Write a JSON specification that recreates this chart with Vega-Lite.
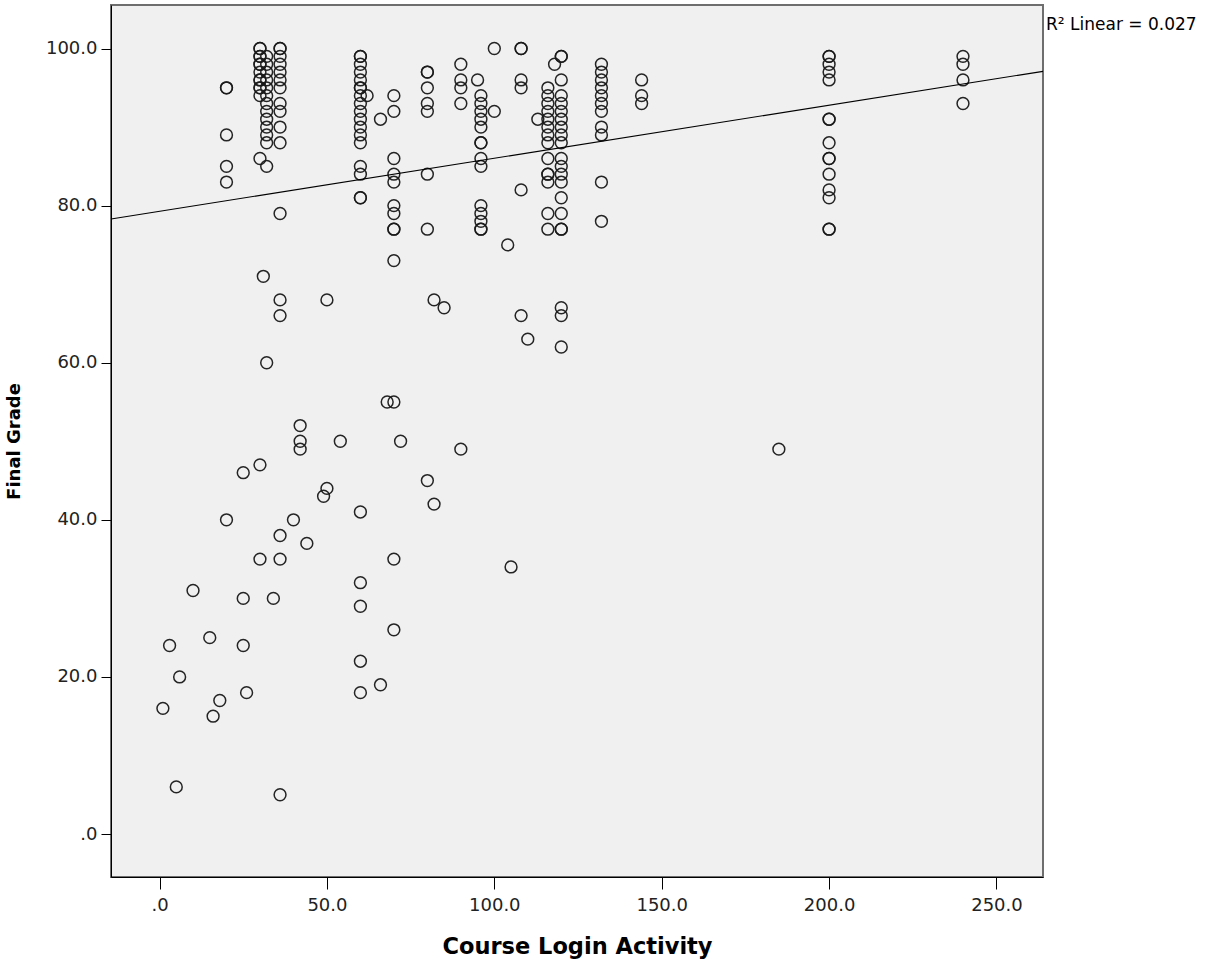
{
  "$schema": "https://vega.github.io/schema/vega-lite/v6.json",
  "width": 932,
  "height": 872,
  "autosize": "none",
  "padding": {"left": 111, "top": 5, "right": 169, "bottom": 86},
  "background": "white",
  "config": {
    "view": {"fill": "#f0f0f0", "stroke": "#6e6e6e", "strokeWidth": 2},
    "font": "DejaVu Sans"
  },
  "datasets": {
    "points": [
      {"login": 1, "grade": 16}, {"login": 3, "grade": 24}, {"login": 5, "grade": 6}, {"login": 6, "grade": 20},
      {"login": 10, "grade": 31}, {"login": 15, "grade": 25}, {"login": 16, "grade": 15}, {"login": 18, "grade": 17},
      {"login": 20, "grade": 95}, {"login": 20, "grade": 95}, {"login": 20, "grade": 89}, {"login": 20, "grade": 85}, {"login": 20, "grade": 83}, {"login": 20, "grade": 40},
      {"login": 25, "grade": 46}, {"login": 25, "grade": 30}, {"login": 25, "grade": 24}, {"login": 26, "grade": 18},
      {"login": 30, "grade": 100}, {"login": 30, "grade": 100}, {"login": 30, "grade": 99}, {"login": 30, "grade": 99}, {"login": 30, "grade": 98}, {"login": 30, "grade": 98}, {"login": 30, "grade": 97}, {"login": 30, "grade": 96}, {"login": 30, "grade": 96}, {"login": 30, "grade": 95}, {"login": 30, "grade": 95}, {"login": 30, "grade": 94}, {"login": 30, "grade": 86}, {"login": 30, "grade": 47}, {"login": 30, "grade": 35},
      {"login": 31, "grade": 71},
      {"login": 32, "grade": 99}, {"login": 32, "grade": 98}, {"login": 32, "grade": 97}, {"login": 32, "grade": 96}, {"login": 32, "grade": 95}, {"login": 32, "grade": 94}, {"login": 32, "grade": 93}, {"login": 32, "grade": 92}, {"login": 32, "grade": 91}, {"login": 32, "grade": 90}, {"login": 32, "grade": 89}, {"login": 32, "grade": 88}, {"login": 32, "grade": 85}, {"login": 32, "grade": 60},
      {"login": 34, "grade": 30},
      {"login": 36, "grade": 100}, {"login": 36, "grade": 100}, {"login": 36, "grade": 99}, {"login": 36, "grade": 98}, {"login": 36, "grade": 97}, {"login": 36, "grade": 96}, {"login": 36, "grade": 95}, {"login": 36, "grade": 93}, {"login": 36, "grade": 92}, {"login": 36, "grade": 90}, {"login": 36, "grade": 88}, {"login": 36, "grade": 79}, {"login": 36, "grade": 68}, {"login": 36, "grade": 66}, {"login": 36, "grade": 38}, {"login": 36, "grade": 35}, {"login": 36, "grade": 5},
      {"login": 40, "grade": 40}, {"login": 42, "grade": 52}, {"login": 42, "grade": 50}, {"login": 42, "grade": 49}, {"login": 44, "grade": 37}, {"login": 49, "grade": 43}, {"login": 50, "grade": 44}, {"login": 50, "grade": 68}, {"login": 54, "grade": 50},
      {"login": 60, "grade": 99}, {"login": 60, "grade": 99}, {"login": 60, "grade": 98}, {"login": 60, "grade": 97}, {"login": 60, "grade": 96}, {"login": 60, "grade": 95}, {"login": 60, "grade": 95}, {"login": 60, "grade": 94}, {"login": 60, "grade": 93}, {"login": 60, "grade": 92}, {"login": 60, "grade": 91}, {"login": 60, "grade": 90}, {"login": 60, "grade": 89}, {"login": 60, "grade": 88}, {"login": 60, "grade": 85}, {"login": 60, "grade": 84}, {"login": 60, "grade": 81}, {"login": 60, "grade": 81}, {"login": 60, "grade": 41}, {"login": 60, "grade": 32}, {"login": 60, "grade": 29}, {"login": 60, "grade": 22}, {"login": 60, "grade": 18},
      {"login": 62, "grade": 94}, {"login": 66, "grade": 91}, {"login": 66, "grade": 19}, {"login": 68, "grade": 55},
      {"login": 70, "grade": 94}, {"login": 70, "grade": 92}, {"login": 70, "grade": 86}, {"login": 70, "grade": 84}, {"login": 70, "grade": 83}, {"login": 70, "grade": 80}, {"login": 70, "grade": 79}, {"login": 70, "grade": 77}, {"login": 70, "grade": 77}, {"login": 70, "grade": 73}, {"login": 70, "grade": 55}, {"login": 70, "grade": 35}, {"login": 70, "grade": 26},
      {"login": 72, "grade": 50},
      {"login": 80, "grade": 97}, {"login": 80, "grade": 97}, {"login": 80, "grade": 95}, {"login": 80, "grade": 93}, {"login": 80, "grade": 92}, {"login": 80, "grade": 84}, {"login": 80, "grade": 77}, {"login": 80, "grade": 45},
      {"login": 82, "grade": 68}, {"login": 82, "grade": 42}, {"login": 85, "grade": 67},
      {"login": 90, "grade": 98}, {"login": 90, "grade": 96}, {"login": 90, "grade": 95}, {"login": 90, "grade": 93}, {"login": 90, "grade": 49},
      {"login": 95, "grade": 96},
      {"login": 96, "grade": 94}, {"login": 96, "grade": 93}, {"login": 96, "grade": 92}, {"login": 96, "grade": 91}, {"login": 96, "grade": 90}, {"login": 96, "grade": 88}, {"login": 96, "grade": 88}, {"login": 96, "grade": 86}, {"login": 96, "grade": 85}, {"login": 96, "grade": 80}, {"login": 96, "grade": 79}, {"login": 96, "grade": 78}, {"login": 96, "grade": 77}, {"login": 96, "grade": 77},
      {"login": 100, "grade": 100}, {"login": 100, "grade": 92}, {"login": 104, "grade": 75}, {"login": 105, "grade": 34},
      {"login": 108, "grade": 100}, {"login": 108, "grade": 100}, {"login": 108, "grade": 96}, {"login": 108, "grade": 95}, {"login": 108, "grade": 82}, {"login": 108, "grade": 66},
      {"login": 110, "grade": 63}, {"login": 113, "grade": 91},
      {"login": 116, "grade": 95}, {"login": 116, "grade": 94}, {"login": 116, "grade": 93}, {"login": 116, "grade": 92}, {"login": 116, "grade": 91}, {"login": 116, "grade": 90}, {"login": 116, "grade": 89}, {"login": 116, "grade": 88}, {"login": 116, "grade": 86}, {"login": 116, "grade": 84}, {"login": 116, "grade": 84}, {"login": 116, "grade": 83}, {"login": 116, "grade": 79}, {"login": 116, "grade": 77},
      {"login": 118, "grade": 98},
      {"login": 120, "grade": 99}, {"login": 120, "grade": 99}, {"login": 120, "grade": 96}, {"login": 120, "grade": 94}, {"login": 120, "grade": 93}, {"login": 120, "grade": 92}, {"login": 120, "grade": 91}, {"login": 120, "grade": 90}, {"login": 120, "grade": 89}, {"login": 120, "grade": 88}, {"login": 120, "grade": 86}, {"login": 120, "grade": 85}, {"login": 120, "grade": 84}, {"login": 120, "grade": 83}, {"login": 120, "grade": 81}, {"login": 120, "grade": 79}, {"login": 120, "grade": 77}, {"login": 120, "grade": 77}, {"login": 120, "grade": 67}, {"login": 120, "grade": 66}, {"login": 120, "grade": 62},
      {"login": 132, "grade": 98}, {"login": 132, "grade": 97}, {"login": 132, "grade": 96}, {"login": 132, "grade": 95}, {"login": 132, "grade": 94}, {"login": 132, "grade": 93}, {"login": 132, "grade": 92}, {"login": 132, "grade": 90}, {"login": 132, "grade": 89}, {"login": 132, "grade": 83}, {"login": 132, "grade": 78},
      {"login": 144, "grade": 96}, {"login": 144, "grade": 94}, {"login": 144, "grade": 93},
      {"login": 185, "grade": 49},
      {"login": 200, "grade": 99}, {"login": 200, "grade": 99}, {"login": 200, "grade": 98}, {"login": 200, "grade": 97}, {"login": 200, "grade": 96}, {"login": 200, "grade": 91}, {"login": 200, "grade": 91}, {"login": 200, "grade": 88}, {"login": 200, "grade": 86}, {"login": 200, "grade": 86}, {"login": 200, "grade": 84}, {"login": 200, "grade": 82}, {"login": 200, "grade": 81}, {"login": 200, "grade": 77}, {"login": 200, "grade": 77},
      {"login": 240, "grade": 99}, {"login": 240, "grade": 98}, {"login": 240, "grade": 96}, {"login": 240, "grade": 93}
    ],
    "fit": [
      {"login": -14.5, "grade": 78.3},
      {"login": 263.9, "grade": 97.1}
    ],
    "note": [
      {"label": "R² Linear = 0.027", "login": 263.9, "grade": 102.4}
    ]
  },
  "layer": [
    {
      "data": {"name": "points"},
      "mark": {"type": "point", "shape": "circle", "filled": false, "size": 140, "stroke": "#1a1a1a", "strokeWidth": 1.5, "opacity": 0.95, "clip": true},
      "encoding": {
        "x": {
          "field": "login", "type": "quantitative",
          "scale": {"domain": [-14.5, 263.9], "nice": false, "zero": false},
          "axis": {
            "values": [0, 50, 100, 150, 200, 250],
            "labelExpr": "datum.value == 0 ? '.0' : format(datum.value, '.1f')",
            "title": "Course Login Activity",
            "titleFont": "DejaVu Sans", "titleFontWeight": "bold", "titleFontSize": 22.5, "titleColor": "black",
            "labelFont": "DejaVu Sans", "labelFontSize": 18, "labelColor": "#222",
            "tickSize": 12, "tickColor": "black", "domainColor": "black", "grid": false,
            "labelPadding": 7, "titlePadding": 21
          }
        },
        "y": {
          "field": "grade", "type": "quantitative",
          "scale": {"domain": [-5.47, 105.54], "nice": false, "zero": false},
          "axis": {
            "values": [0, 20, 40, 60, 80, 100],
            "labelExpr": "datum.value == 0 ? '.0' : format(datum.value, '.1f')",
            "title": "Final Grade",
            "titleFont": "DejaVu Sans", "titleFontWeight": "bold", "titleFontSize": 18, "titleColor": "black",
            "labelFont": "DejaVu Sans", "labelFontSize": 18, "labelColor": "#222",
            "tickSize": 10, "tickColor": "black", "domainColor": "black", "grid": false,
            "labelPadding": 4, "titlePadding": 22
          }
        }
      }
    },
    {
      "data": {"name": "fit"},
      "mark": {"type": "line", "color": "black", "strokeWidth": 1.2},
      "encoding": {
        "x": {"field": "login", "type": "quantitative"},
        "y": {"field": "grade", "type": "quantitative"}
      }
    },
    {
      "data": {"name": "note"},
      "mark": {"type": "text", "align": "left", "baseline": "alphabetic", "dx": 3, "fontSize": 17, "font": "DejaVu Sans", "color": "black"},
      "encoding": {
        "text": {"field": "label"},
        "x": {"field": "login", "type": "quantitative"},
        "y": {"field": "grade", "type": "quantitative"}
      }
    }
  ]
}
